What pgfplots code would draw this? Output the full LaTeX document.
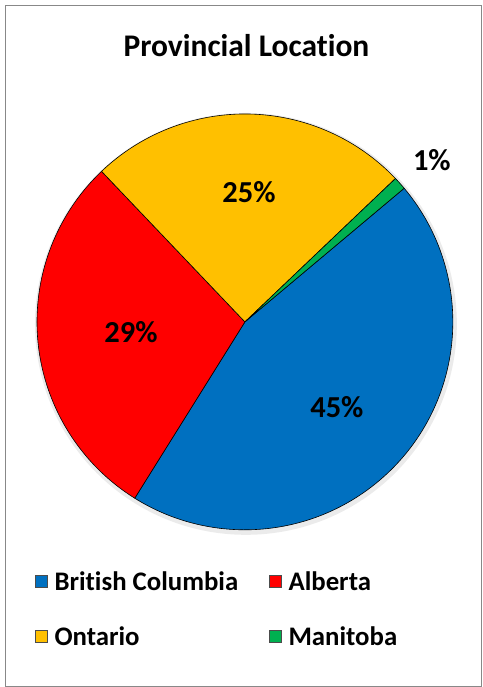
\documentclass[border=0pt]{standalone}
\usepackage{pgfplots}
\usepackage{pgfplotstable}
\pgfplotsset{compat=1.18}
\usepackage{fontspec}
\setmainfont{Carlito}[Ligatures=NoCommon]
\definecolor{bcblue}{HTML}{0070C0}
\definecolor{abred}{HTML}{FF0000}
\definecolor{onyellow}{HTML}{FFC000}
\definecolor{mbgreen}{HTML}{00B050}
\definecolor{framegray}{HTML}{888888}

\pgfplotstableread[col sep=comma]{
name,value,lx,ly
British Columbia,45,337,407
Alberta,29,131,332
Ontario,25,249,192
Manitoba,1,432,160
}\pietable

\begin{document}
\begin{tikzpicture}
\begin{axis}[
  scale only axis, width=483bp, height=687bp,
  xmin=0, xmax=483, ymin=0, ymax=687, y dir=reverse,
  hide axis, clip=false,
  legend columns=2,
  legend cell align=left,
  legend style={draw=none, fill=none, at={(axis cs:35,570)}, anchor=north west,
    font=\fontsize{26.8bp}{31bp}\selectfont\bfseries,
    /tikz/every even column/.append style={column sep=29bp},
    /tikz/every odd column/.append style={column sep=5bp},
    /tikz/row sep=30bp, inner sep=0pt},
  legend image code/.code={\filldraw[#1] (0bp,-5.5bp) rectangle (12bp,6.5bp);},
]
\path (axis cs:0,0) rectangle (axis cs:483,687);
\addlegendimage{fill=bcblue, draw=black!70}
\addlegendentry{British Columbia}
\addlegendimage{fill=abred, draw=black!70}
\addlegendentry{Alberta}
\addlegendimage{fill=onyellow, draw=black!70}
\addlegendentry{Ontario}
\addlegendimage{fill=mbgreen, draw=black!70}
\addlegendentry{Manitoba}
\pgfplotsextra{%
  \draw[framegray, line width=1.5bp] (axis cs:5.5,5.5) rectangle (axis cs:481.5,686.5);
  \node[font=\fontsize{31.5bp}{36bp}\selectfont\bfseries] at (axis cs:246.5,46) {Provincial Location};
  \fill[black, opacity=0.08] (axis cs:246,324) circle[radius=211bp];
  \gdef\curang{40}%
  \foreach \i/\col in {0/bcblue,1/abred,2/onyellow,3/mbgreen}{%
    \pgfplotstablegetelem{\i}{value}\of\pietable
    \pgfmathsetmacro\endang{\curang-3.6*\pgfplotsretval}%
    \filldraw[fill=\col, draw=black, line width=0.6bp, line join=round]
      (axis cs:245,322) -- ++(\curang:208bp)
      arc[start angle=\curang, end angle=\endang, radius=208bp] -- cycle;
    \xdef\curang{\endang}%
  }%
  \foreach \i in {0,1,2,3}{%
    \pgfplotstablegetelem{\i}{value}\of\pietable
    \let\v\pgfplotsretval
    \pgfplotstablegetelem{\i}{lx}\of\pietable
    \let\x\pgfplotsretval
    \pgfplotstablegetelem{\i}{ly}\of\pietable
    \let\y\pgfplotsretval
    \node[font=\fontsize{30.5bp}{34bp}\selectfont\bfseries] at (axis cs:\x,\y) {\v\%};
  }%
}
\end{axis}
\end{tikzpicture}
\end{document}
